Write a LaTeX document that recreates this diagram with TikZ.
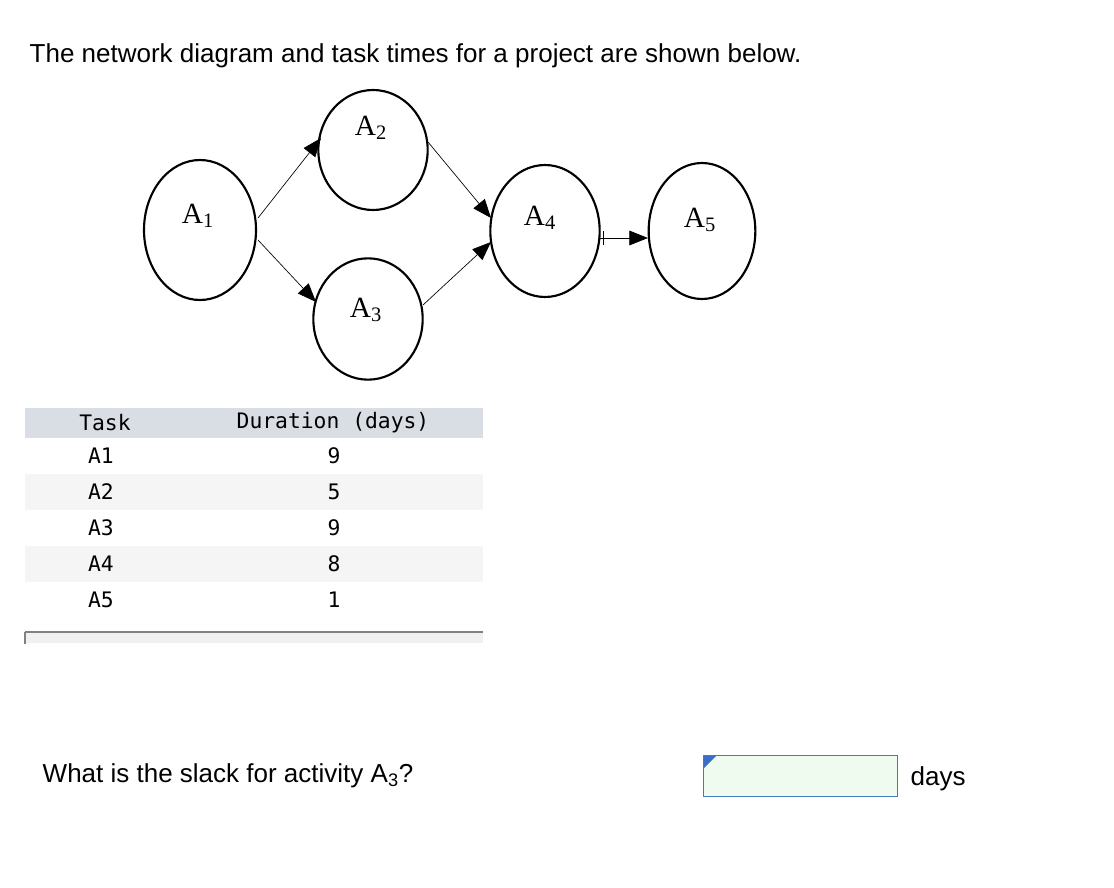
\documentclass[tikz,border=0pt]{standalone}
\usepackage{fontspec}
\setmainfont{Liberation Sans}
\newfontfamily\serifA{Liberation Serif}
\newfontfamily\monoA{DejaVu Sans Mono}
\usetikzlibrary{arrows.meta,shapes.geometric}
\definecolor{hdr}{RGB}{217,221,228}
\definecolor{boxline}{RGB}{70,120,200}
\definecolor{boxfill}{RGB}{240,251,240}
\definecolor{tri}{RGB}{60,110,200}
\begin{document}
\begin{tikzpicture}[x=0.75pt,y=-0.75pt,
  lab/.style={font=\serifA\fontsize{22}{24}\selectfont},
  arr/.style={line width=0.5pt,-{Triangle[length=14pt,width=11pt]}},
  mono/.style={font=\monoA\fontsize{16}{18}\selectfont}]
\useasboundingbox (0,0) rectangle (1114,888);
\node[anchor=base west,font=\fontsize{19.5}{22}\selectfont] (title) at (25,63) {The network diagram and task times for a project are shown below.};
\node[draw,line width=1.6pt,ellipse,minimum width=84pt,minimum height=105pt] (a1) at (200,230) {};
\node[draw,line width=1.6pt,ellipse,minimum width=82pt,minimum height=90pt] (a2) at (373,150) {};
\node[draw,line width=1.6pt,ellipse,minimum width=82pt,minimum height=91pt] (a3) at (368,319) {};
\node[draw,line width=1.6pt,ellipse,minimum width=82pt,minimum height=99pt] (a4) at (545,231) {};
\node[draw,line width=1.6pt,ellipse,minimum width=80pt,minimum height=102pt] (a5) at (702,231) {};
\node[lab] (l1) at (198,216) {A\textsubscript{1}};
\node[lab] (l2) at (371,128) {A\textsubscript{2}};
\node[lab] (l3) at (366,310) {A\textsubscript{3}};
\node[lab] (l4) at (540,218) {A\textsubscript{4}};
\node[lab] (l5) at (700,220) {A\textsubscript{5}};
\coordinate (s1) at (258,218); \coordinate (e1) at (321,138);
\coordinate (s2) at (258,240); \coordinate (e2) at (316,302);
\coordinate (s3) at (428,142); \coordinate (e3) at (491,218);
\coordinate (s4) at (423,305); \coordinate (e4) at (491,242);
\coordinate (s5) at (600,238); \coordinate (e5) at (648,238);
\draw[arr] (s1) -- (e1);
\draw[arr] (s2) -- (e2);
\draw[arr] (s3) -- (e3);
\draw[arr] (s4) -- (e4);
\draw[arr] (s5) -- (e5);
\draw[line width=0.6pt] (603,231) -- (603,245);
% table
\fill[hdr] (25,408) rectangle (483,438);
\fill[gray!8] (25,474) rectangle (483,510);
\fill[gray!8] (25,546) rectangle (483,582);
\node[mono] (th) at (105,423) {Task};
\node[mono] (dh) at (333,423) {Duration (days)};
\foreach \i/\d in {1/9,2/5,3/9,4/8,5/1}{
  \node[mono] (t\i) at (101,420+36*\i) {A\i};
  \node[mono] (d\i) at (334,420+36*\i) {\d};
}
\fill[gray!12] (25,632) rectangle (483,643);
\draw[gray,line width=1pt] (25,632) -- (483,632);
\draw[gray,line width=1pt] (25,632) -- (25,644);
\node[anchor=base west,font=\fontsize{19.5}{22}\selectfont] (q) at (38,782) {What is the slack for activity A\textsubscript{3}?};
\node[draw=boxline,line width=0.8pt,fill=boxfill,minimum width=146pt,minimum height=31pt,inner sep=0pt] (box) at (800.5,776) {};
\fill[tri] (704,756) -- (716,756) -- (704,768) -- cycle;
\node[anchor=base west,font=\fontsize{19.5}{22}\selectfont] (days) at (906,785) {days};
\end{tikzpicture}
\end{document}
